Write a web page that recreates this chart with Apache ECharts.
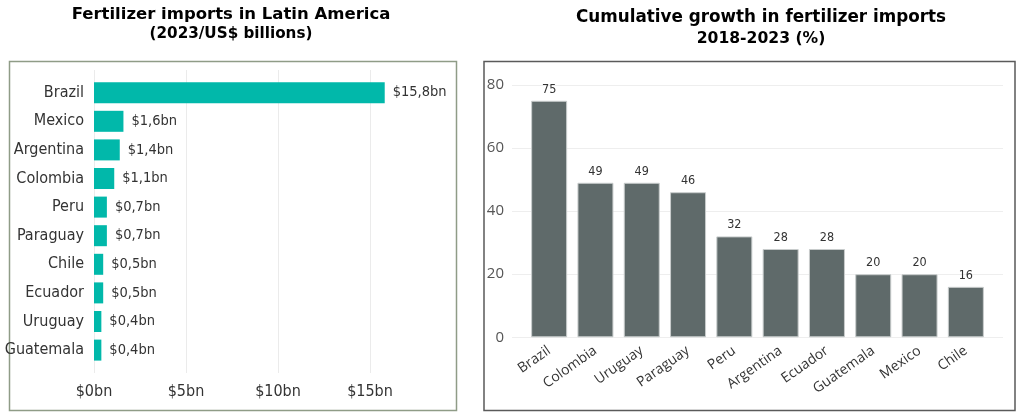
<!DOCTYPE html>
<html>
<head>
<meta charset="utf-8">
<script src="https://cdn.jsdelivr.net/npm/echarts@6/dist/echarts.min.js"></script>
<style>
  html, body { margin: 0; padding: 0; background: #ffffff; }
  #chart { width: 1024px; height: 420px; }
</style>
</head>
<body>
<div id="chart"></div>
<script>
// left chart: 2023 imports, US$ billions
const importCountries = ['Brazil', 'Mexico', 'Argentina', 'Colombia', 'Peru', 'Paraguay', 'Chile', 'Ecuador', 'Uruguay', 'Guatemala']
const importValues = [15.8, 1.6, 1.4, 1.1, 0.7, 0.7, 0.5, 0.5, 0.4, 0.4]
const importTicks = [0, 5, 10, 15]

// right chart: cumulative growth 2018-2023, %
const growthCountries = ['Brazil', 'Colombia', 'Uruguay', 'Paraguay', 'Peru', 'Argentina', 'Ecuador', 'Guatemala', 'Mexico', 'Chile']
const growthValues = [75, 49, 49, 46, 32, 28, 28, 20, 20, 16]
const growthTicks = [0, 20, 40, 60, 80]

const narrow = '"DejaVu Sans Condensed", "Liberation Sans Narrow", sans-serif'
const titleFont = '"DejaVu Sans", Verdana, sans-serif'

const chart = echarts.init(document.getElementById('chart'))

const importMax = 17.5
const importStep = importTicks[1] - importTicks[0]
const growthMax = growthTicks[growthTicks.length - 1]
const growthStep = growthTicks[1] - growthTicks[0]

// no auto shrinking of grids around labels
const fixedGrid = { containLabel: false, outerBoundsMode: 'none' }

const option = {
  backgroundColor: '#ffffff',
  animation: false,
  title: [
    { text: 'Fertilizer imports in Latin America', left: 226, top: 1, textAlign: 'center',
      textStyle: { fontFamily: titleFont, fontWeight: 'bold', fontSize: 16.5, color: '#000' } },
    { text: '(2023/US$ billions)', left: 226, top: 22, textAlign: 'center',
      textStyle: { fontFamily: titleFont, fontWeight: 'bold', fontSize: 15.2, color: '#000' } },
    { text: 'Cumulative growth in fertilizer imports', left: 756, top: 4, textAlign: 'center',
      textStyle: { fontFamily: titleFont, fontWeight: 'bold', fontSize: 16.8, color: '#000' } },
    { text: '2018-2023 (%)', left: 756, top: 26, textAlign: 'center',
      textStyle: { fontFamily: titleFont, fontWeight: 'bold', fontSize: 15.6, color: '#000' } }
  ],
  graphic: [
    { type: 'rect', silent: true, shape: { x: 9.5, y: 61.5, width: 447, height: 349 },
      style: { fill: 'none', stroke: '#8f9c87', lineWidth: 1.5 } },
    { type: 'rect', silent: true, shape: { x: 484, y: 61.5, width: 531, height: 349 },
      style: { fill: 'none', stroke: '#5a5a5a', lineWidth: 1.5 } }
  ],
  grid: [
    Object.assign({ left: 94, top: 70, width: 322, height: 303 }, fixedGrid),
    Object.assign({ left: 94, top: 78.4, width: 322, height: 286 }, fixedGrid),
    Object.assign({ left: 512, top: 85, width: 491, height: 252.3 }, fixedGrid),
    Object.assign({ left: 526, top: 85, width: 463, height: 252.3 }, fixedGrid)
  ],
  xAxis: [
    {
      gridIndex: 0, type: 'value', min: 0, max: importMax, interval: importStep,
      axisLine: { show: false }, axisTick: { show: false },
      axisLabel: {
        margin: 11, showMaxLabel: false,
        fontFamily: narrow, fontSize: 16, color: '#333',
        formatter: v => importTicks.includes(v) ? '$' + v + 'bn' : ''
      },
      splitLine: { show: true, showMaxLine: false, lineStyle: { color: '#ebebeb', width: 1 } }
    },
    { gridIndex: 1, type: 'value', min: 0, max: importMax, show: false },
    { gridIndex: 2, type: 'value', min: 0, max: 1, show: false },
    {
      gridIndex: 3, type: 'category', data: growthCountries,
      axisLine: { show: false }, axisTick: { show: false },
      axisLabel: { interval: 0, rotate: 35, margin: 12, fontFamily: '"Open Sans", sans-serif', fontSize: 14, color: '#333' }
    }
  ],
  yAxis: [
    { gridIndex: 0, type: 'value', show: false },
    {
      gridIndex: 1, type: 'category', inverse: true, data: importCountries,
      axisLine: { show: false }, axisTick: { show: false },
      axisLabel: { margin: 10, fontFamily: narrow, fontSize: 16, color: '#333' }
    },
    {
      gridIndex: 2, type: 'value', min: 0, max: growthMax, interval: growthStep,
      axisLine: { show: false }, axisTick: { show: false },
      axisLabel: { margin: 8, fontFamily: '"Open Sans", sans-serif', fontSize: 15, color: '#555' },
      splitLine: { lineStyle: { color: '#eeeeee', width: 1 } }
    },
    { gridIndex: 3, type: 'value', min: 0, max: growthMax, show: false }
  ],
  series: [
    {
      type: 'bar', xAxisIndex: 1, yAxisIndex: 1,
      data: importValues, barWidth: 21,
      itemStyle: { color: '#01b8aa' },
      label: {
        show: true, position: 'right', distance: 8,
        fontFamily: narrow, fontSize: 14.5, color: '#333',
        formatter: p => '$' + String(p.value).replace('.', ',') + 'bn'
      }
    },
    {
      type: 'bar', xAxisIndex: 3, yAxisIndex: 3,
      data: growthValues, barWidth: 36,
      itemStyle: { color: '#5f6a6a', borderColor: '#c9cdcd', borderWidth: 1 },
      label: {
        show: true, position: 'top', distance: 5,
        fontFamily: narrow, fontSize: 12.5, color: '#333'
      }
    }
  ]
}

chart.setOption(option)
</script>
</body>
</html>
